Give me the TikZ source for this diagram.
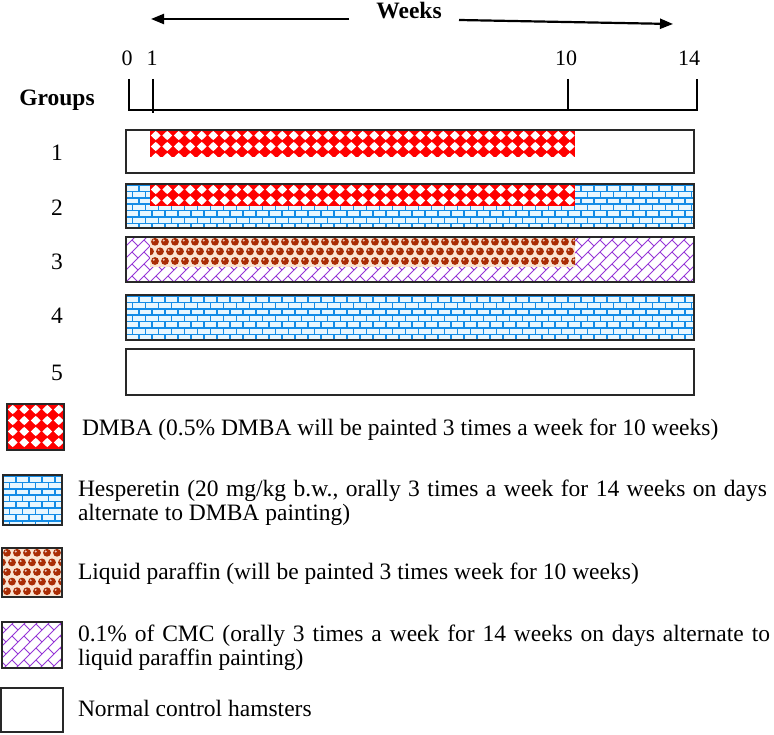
\documentclass[tikz,border=0pt]{standalone}
\usepackage{fontspec}
\setmainfont{Liberation Serif}
\usetikzlibrary{arrows.meta}
\definecolor{dmbared}{RGB}{255,0,0}
\definecolor{brickline}{RGB}{20,140,230}
\definecolor{brickfill}{RGB}{232,247,255}
\definecolor{ballcol}{RGB}{170,45,5}
\definecolor{ballbg}{RGB}{250,228,210}
\definecolor{cmcline}{RGB}{150,55,215}
\definecolor{boxline}{RGB}{40,40,40}
\newcommand\lgfont{\fontsize{23.5}{25}\selectfont}
\newcommand\tkfont{\fontsize{22}{24}\selectfont}
% red diamonds
\newcommand\dmbapat[4]{%
  \begin{scope}
    \clip (#1,#2) rectangle (#3,#4);
    \fill[dmbared] (#1,#2) rectangle (#3,#4);
    \pgfmathtruncatemacro\dmbni{ceil((#3-#1)/11.5)}
    \pgfmathtruncatemacro\dmbnj{ceil((#4-#2)/11)}
    \foreach \i in {0,...,\dmbni}{
      \foreach \j in {0,...,\dmbnj}{
        \fill[white] ({#1+5.75+11.5*\i},{#2+5.5+11*\j}) +(-4.9,0) -- +(0,-4.7) -- +(4.9,0) -- +(0,4.7) -- cycle;
      }}
  \end{scope}}
% blue bricks
\newcommand\brickpat[4]{%
  \begin{scope}
    \clip (#1,#2) rectangle (#3,#4);
    \fill[brickfill] (#1,#2) rectangle (#3,#4);
    \pgfmathtruncatemacro\brnj{ceil((#4-#2)/6.4)}
    \pgfmathtruncatemacro\brni{ceil((#3-#1)/13)}
    \foreach \j in {0,...,\brnj}{
      \draw[brickline,line width=1.5] (#1,{#2+1+6.4*\j}) -- (#3,{#2+1+6.4*\j});
      \foreach \i in {0,...,\brni}{
        \draw[brickline,line width=1.5] ({#1+13*\i+6.5*mod(\j,2)},{#2+1+6.4*\j}) -- ++(0,6.4);
      }}
  \end{scope}}
% brown balls
\newcommand\ballpat[4]{%
  \begin{scope}
    \clip (#1,#2) rectangle (#3,#4);
    \fill[ballbg] (#1,#2) rectangle (#3,#4);
    \pgfmathtruncatemacro\blni{ceil((#3-#1)/10)+1}
    \pgfmathtruncatemacro\blnj{ceil((#4-#2)/9.6)}
    \foreach \j in {0,...,\blnj}{
      \foreach \i in {0,...,\blni}{
        \fill[ballcol] ({#1+5+10*\i-5*mod(\j,2)},{#2+4.8+9.6*\j}) circle (3.9);
        \fill[white,opacity=.75] ({#1+5+10*\i-5*mod(\j,2)-1.3},{#2+4.8+9.6*\j-1.3}) circle (1.1);
      }}
  \end{scope}}
% purple diagonal bricks
\newcommand\cmcpat[4]{%
  \begin{scope}
    \clip (#1,#2) rectangle (#3,#4);
    \fill[white] (#1,#2) rectangle (#3,#4);
    \pgfmathtruncatemacro\cua{floor((#1+#2)/12)}
    \pgfmathtruncatemacro\cub{ceil((#3+#4)/12)}
    \pgfmathsetmacro\cvmin{#1-#4-10}
    \pgfmathsetmacro\cvmax{#3-#2+10}
    \foreach \k in {\cua,...,\cub}{
      \pgfmathsetmacro\uu{12*\k}
      \pgfmathtruncatemacro\ma{floor(max(2*#1-\uu,\uu-2*#4)/24)-1}
      \pgfmathtruncatemacro\mbb{ceil(min(2*#3-\uu,\uu-2*#2)/24)}
      \pgfmathtruncatemacro\mb{max(\mbb,\ma)}
      \draw[cmcline,line width=0.9] ({(\uu+\cvmin)/2},{(\uu-\cvmin)/2}) -- ({(\uu+\cvmax)/2},{(\uu-\cvmax)/2});
      \foreach \m in {\ma,...,\mb}{
        \pgfmathsetmacro\vv{24*\m+12*mod(\k,2)}
        \draw[cmcline,line width=0.9] ({(\uu+\vv)/2},{(\uu-\vv)/2}) -- ({(\uu+12+\vv)/2},{(\uu+12-\vv)/2});
      }}
  \end{scope}}
\begin{document}
\begin{tikzpicture}[x=1pt,y=-1pt,
  barbox/.style={draw=boxline,line width=1.4},
  tickline/.style={line width=1.1,draw=black},
  wkarrow/.style={line width=2.2,-{Triangle[length=13pt,width=10pt]}},
  lbl/.style={inner sep=0,outer sep=0},
  legtext/.style={lbl,anchor=base west,font=\lgfont},
  grpnum/.style={lbl,anchor=base,font=\lgfont},
  ticklbl/.style={lbl,anchor=base,font=\tkfont}]
\useasboundingbox (0,0) rectangle (774,735);
\fill[white] (0,0) rectangle (774,735);
\frenchspacing
% ---- time axis
\node[lbl,anchor=base,font=\bfseries\lgfont] (weeks) at (409,19) {Weeks};
\coordinate (la0) at (349,19);
\coordinate (la1) at (151,19);
\coordinate (ra0) at (459,20);
\coordinate (ra1) at (673,24);
\draw[wkarrow] (la0) -- (la1);
\draw[wkarrow] (ra0) -- (ra1);
\node[ticklbl] (t0) at (127,66) {0};
\node[ticklbl] (t1) at (152,66) {1};
\node[ticklbl] (t10) at (566,66) {10};
\node[ticklbl] (t14) at (689,66) {14};
\coordinate (k0a) at (129,79);  \coordinate (k0b) at (129,110);
\coordinate (k1a) at (153,79);  \coordinate (k1b) at (153,113);
\coordinate (k10a) at (568,79); \coordinate (k10b) at (568,110);
\coordinate (k14a) at (697,79); \coordinate (k14b) at (697,110);
\draw[tickline] (k0a) -- (k0b) -- (k14b) -- (k14a);
\draw[tickline] (k1a) -- (k1b);
\draw[tickline] (k10a) -- (k10b);
\node[lbl,anchor=base,font=\bfseries\lgfont] (groups) at (57,106) {Groups};
% ---- bars
% bar 1
\fill[white] (126,130) rectangle (694,173);
\dmbapat{150}{130}{575}{157}
\draw[barbox] (126,130) rectangle (694,173);
% bar 2
\brickpat{126}{184}{694}{228}
\dmbapat{150}{184}{575}{206}
\draw[barbox] (126,184) rectangle (694,228);
% bar 3
\cmcpat{126}{237}{694}{282}
\ballpat{150}{237}{575}{267}
\draw[barbox] (126,237) rectangle (694,282);
% bar 4
\brickpat{126}{295}{694}{340}
\draw[barbox] (126,295) rectangle (694,340);
% bar 5
\fill[white] (126,349) rectangle (694,395);
\draw[barbox] (126,349) rectangle (694,395);
\node[grpnum] (g1) at (57,161) {1};
\node[grpnum] (g2) at (57,216) {2};
\node[grpnum] (g3) at (57,270) {3};
\node[grpnum] (g4) at (57,324) {4};
\node[grpnum] (g5) at (57,381) {5};
% ---- legend
\dmbapat{7}{404}{64}{450}
\draw[barbox] (7,404) rectangle (64,450);
\node[legtext] (ldmba) at (82,435) {DMBA (0.5\% DMBA will be painted 3 times a week for 10 weeks)};
\brickpat{3}{475}{62}{525}
\draw[barbox] (3,475) rectangle (62,525);
\node[legtext] (lhes1) at (78,496) {\hbox to 689pt{Hesperetin (20 mg/kg b.w., orally 3 times a week for 14 weeks on days}};
\node[legtext] (lhes2) at (78,520) {alternate to DMBA painting)};
\ballpat{2}{548}{62}{597}
\draw[barbox] (2,548) rectangle (62,597);
\node[legtext] (lliq) at (78,579) {Liquid paraffin (will be painted 3 times week for 10 weeks)};
\cmcpat{2}{622}{62}{668}
\draw[barbox] (2,622) rectangle (62,668);
\node[legtext] (lcmc1) at (78,641) {\hbox to 692pt{0.1\% of CMC (orally 3 times a week for 14 weeks on days alternate to}};
\node[legtext] (lcmc2) at (78,665) {liquid paraffin painting)};
\draw[barbox] (1,688) rectangle (63,732);
\node[legtext] (lnorm) at (78,716) {Normal control hamsters};
\end{tikzpicture}
\end{document}
